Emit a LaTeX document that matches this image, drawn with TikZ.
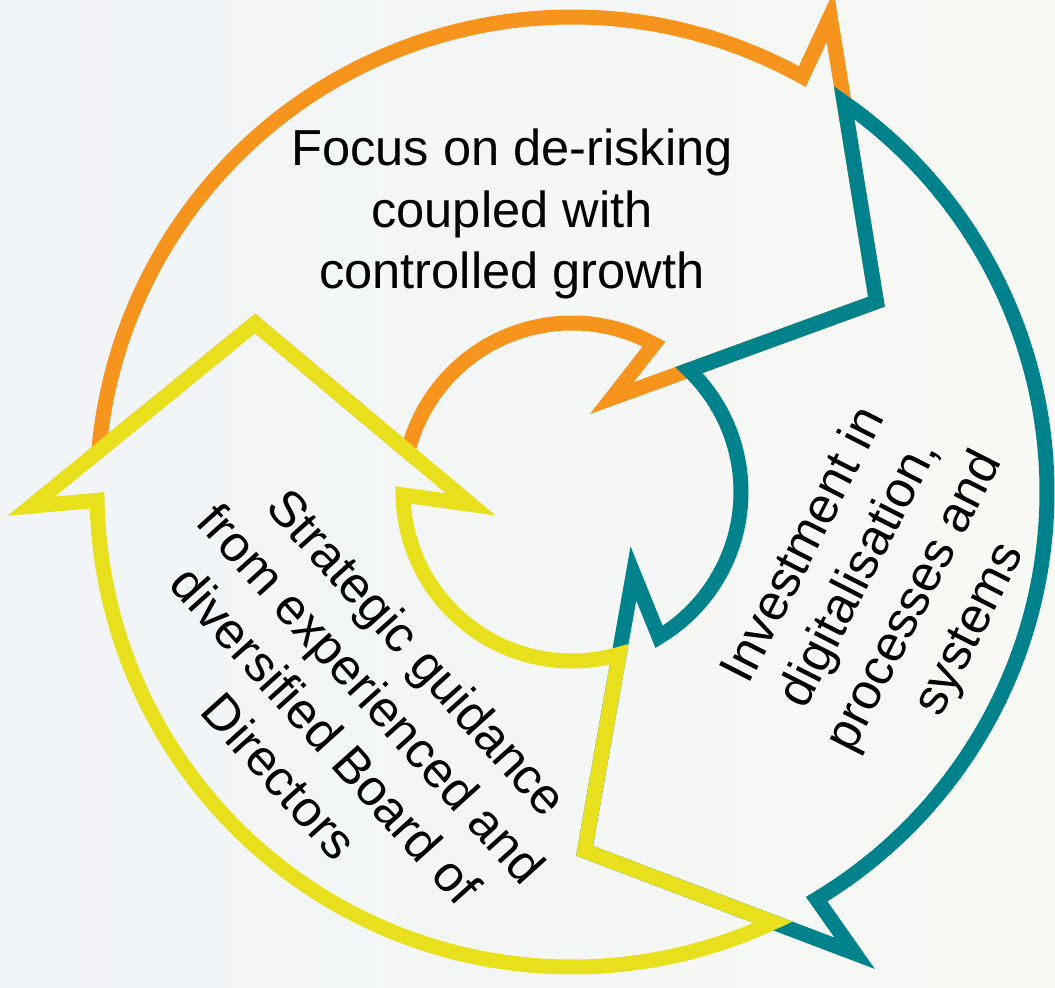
\documentclass[tikz,border=0pt]{standalone}
\usepackage{fontspec}
\setmainfont{Liberation Sans}

\definecolor{orangeC}{HTML}{F7941E}
\definecolor{tealC}{HTML}{00828C}
\definecolor{yellowC}{HTML}{E8E01C}
\definecolor{bgLeft}{HTML}{F1F4F8}
\definecolor{bgRight}{HTML}{F8F9F4}

\begin{document}
\begin{tikzpicture}[x=0.25mm, y=0.25mm,
    seg/.style={line width=3.75mm, line join=miter, miter limit=20},
    lbl/.style={align=center, font=\fontsize{36}{44}\selectfont, text=black}]
    % background
    \fill[left color=bgLeft, right color=bgRight] (-572,-496) rectangle (483,492);
    \useasboundingbox (-572,-496) rectangle (483,492);
    % three cycle arrows
    \foreach \col/\rot in {orangeC/0, tealC/-120, yellowC/-240}
        \draw[seg, draw=\col, rotate=\rot] (175.04:475) arc[start angle=175.04, end angle=61, radius=475]
            -- (61.5:541) -- (32:359) -- (67:102) -- (61:169)
            arc[start angle=61, end angle=166.2, radius=169] -- (152:359) -- cycle;
    % labels
    \node[lbl] (focus) at (-60,278) {Focus on de-risking\\coupled with\\controlled growth};
    \node[lbl, rotate=63] (invest) at (316,-96) {Investment in\\digitalisation,\\processes and\\systems};
    \node[lbl, rotate=-48] (guide) at (-223,-222) {Strategic guidance\\from experienced and\\diversified Board of\\Directors};
\end{tikzpicture}
\end{document}
